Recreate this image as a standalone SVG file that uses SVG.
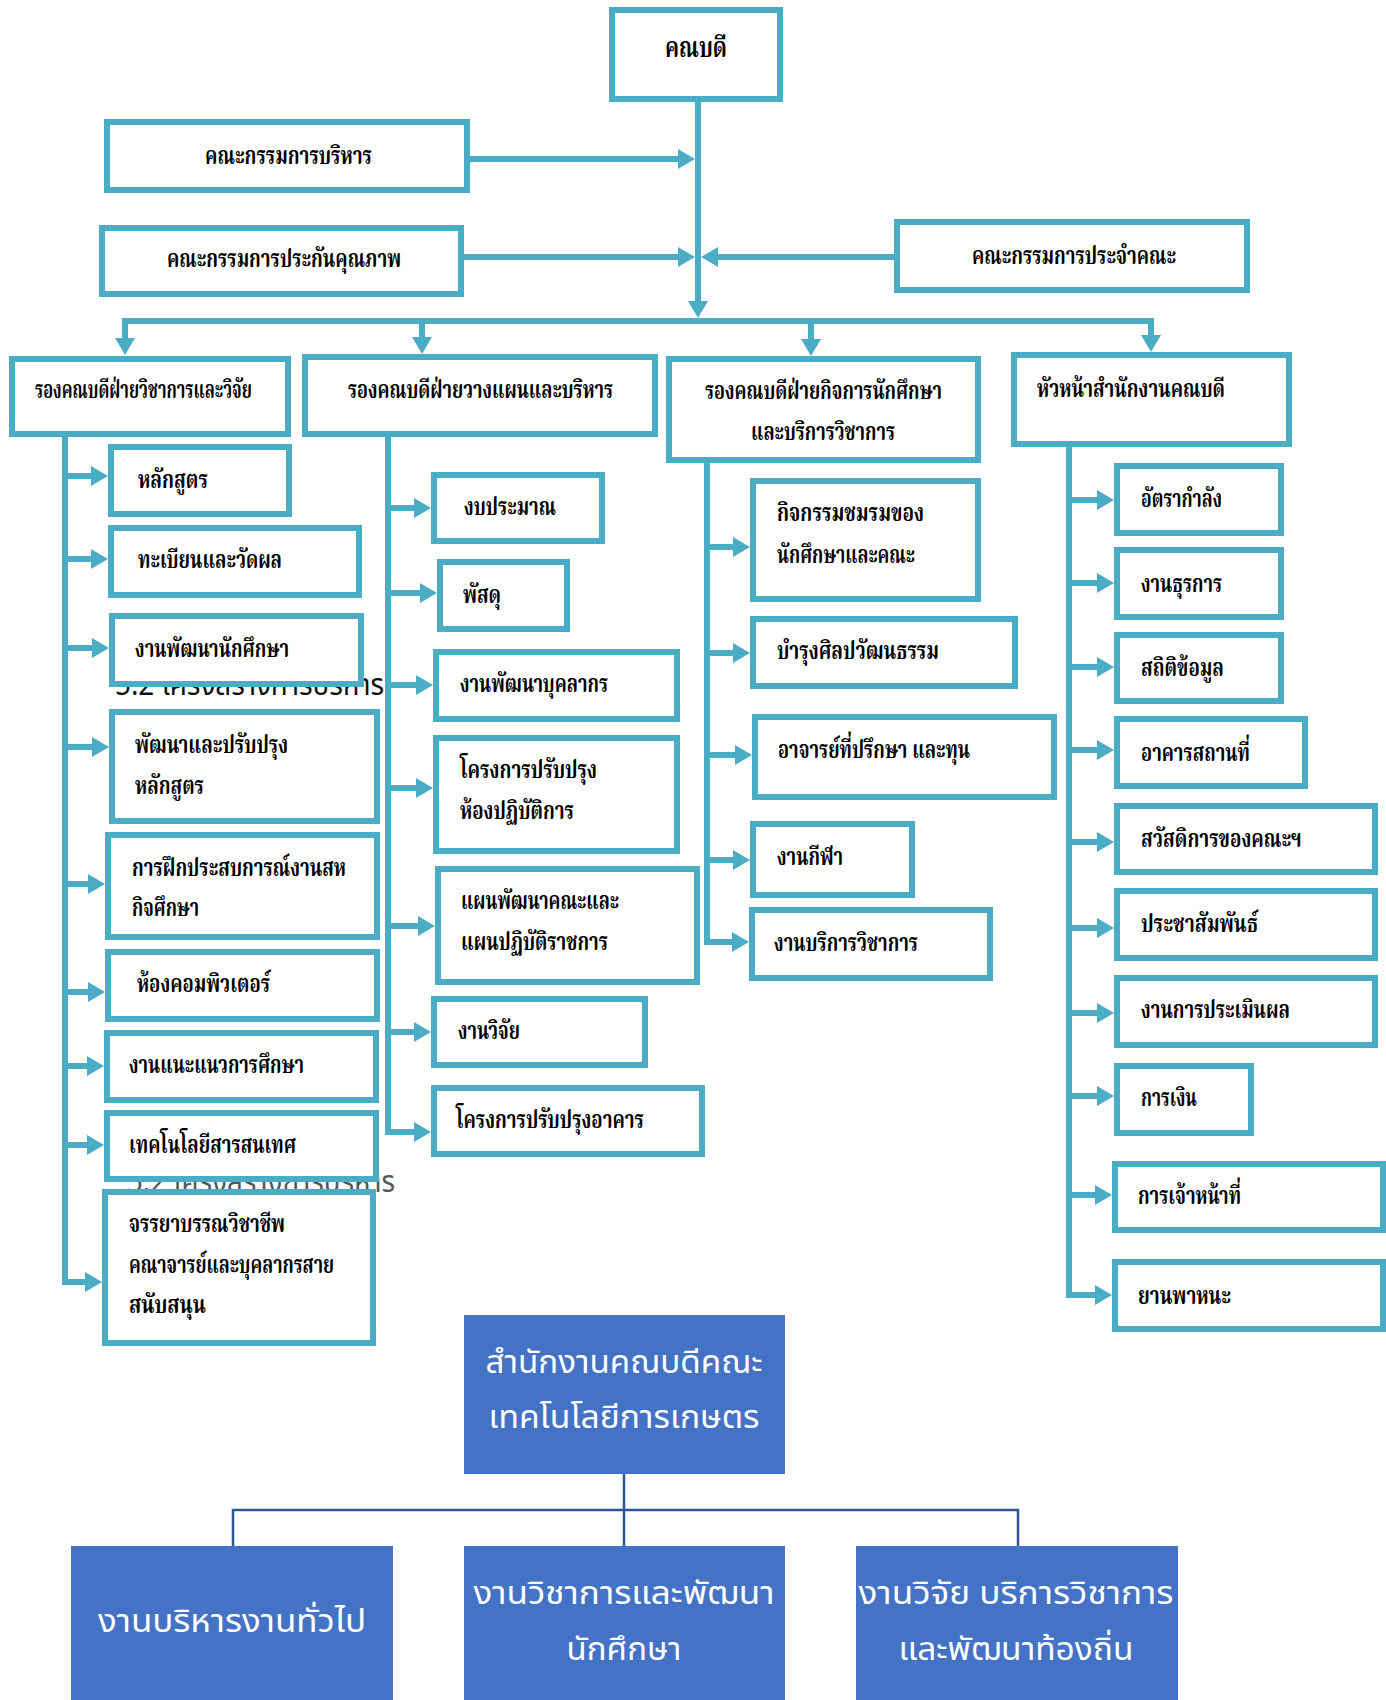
<svg xmlns="http://www.w3.org/2000/svg" width="1386" height="1700" viewBox="0 0 1386 1700">
<style>
.box{fill:#fff;stroke:#4BACC6;stroke-width:6}
.con{fill:none;stroke:#4BACC6;stroke-width:6}
.arr{marker-end:url(#ah)}
.t{font-family:"Noto Serif Thai","Norasi","Kinnari","Noto Sans Thai Looped","Noto Sans Thai","Noto Sans","DejaVu Sans",sans-serif;font-size:25px;font-weight:bold;fill:#000}
.ghost{font-family:"Noto Sans Thai","Noto Sans","DejaVu Sans",sans-serif;font-size:30px;fill:#111}
.sa{fill:#4472C4}
.sal{fill:none;stroke:#2F5597;stroke-width:2.5}
.sat{font-family:"Noto Sans Thai","Noto Sans","DejaVu Sans",sans-serif;font-size:32px;fill:#fff;text-anchor:middle}
</style>
<defs>
<marker id="ah" viewBox="0 0 17 20" refX="0" refY="10" markerWidth="17" markerHeight="20" markerUnits="userSpaceOnUse" orient="auto"><path d="M0,0 L17,10 L0,20 z" fill="#4BACC6"/></marker>
</defs>
<rect width="1386" height="1700" fill="#fff"/>

<g id="ghost-headings">
<text class="ghost" x="115" y="695" textLength="269" lengthAdjust="spacingAndGlyphs">5.2 โครงสร้างการบริหาร</text>
<text class="ghost" x="127" y="1192" textLength="268" lengthAdjust="spacingAndGlyphs" style="fill:#555;font-weight:normal">5.2 โครงสร้างการบริหาร</text>
</g>

<g id="connectors">
<path class="con arr" d="M698,102 V301"/>
<path class="con arr" d="M470,159 H678"/>
<path class="con arr" d="M464,257 H678"/>
<path class="con arr" d="M894,257 H718"/>
<path class="con" d="M122,321 H1154"/>
<path class="con arr" d="M125,321 V338"/>
<path class="con arr" d="M422,321 V337"/>
<path class="con arr" d="M811,321 V339"/>
<path class="con arr" d="M1151,321 V335"/>
<path class="con arr" d="M65,437 V1282 H85"/>
<path class="con arr" d="M65,476 H91"/>
<path class="con arr" d="M65,559 H91"/>
<path class="con arr" d="M65,648 H92"/>
<path class="con arr" d="M65,747 H92"/>
<path class="con arr" d="M65,884 H88"/>
<path class="con arr" d="M65,992 H88"/>
<path class="con arr" d="M65,1066 H87"/>
<path class="con arr" d="M65,1145 H87"/>
<path class="con arr" d="M388,437 V1132 H414"/>
<path class="con arr" d="M388,508 H414"/>
<path class="con arr" d="M388,593 H420"/>
<path class="con arr" d="M388,685 H416"/>
<path class="con arr" d="M388,788 H416"/>
<path class="con arr" d="M388,926 H418"/>
<path class="con arr" d="M388,1032 H414"/>
<path class="con arr" d="M707,463 V942 H732"/>
<path class="con arr" d="M707,547 H733"/>
<path class="con arr" d="M707,653 H733"/>
<path class="con arr" d="M707,755 H735"/>
<path class="con arr" d="M707,860 H733"/>
<path class="con arr" d="M1069,447 V1295 H1095"/>
<path class="con arr" d="M1069,500 H1097"/>
<path class="con arr" d="M1069,583 H1097"/>
<path class="con arr" d="M1069,667 H1097"/>
<path class="con arr" d="M1069,750 H1097"/>
<path class="con arr" d="M1069,842 H1097"/>
<path class="con arr" d="M1069,928 H1097"/>
<path class="con arr" d="M1069,1013 H1097"/>
<path class="con arr" d="M1069,1096 H1097"/>
<path class="con arr" d="M1069,1195 H1095"/>
<path class="sal" d="M624,1474 V1546"/>
<path class="sal" d="M233,1546 V1510 H1018 V1546"/>
</g>

<g id="dean"><rect class="box" x="612" y="10" width="168" height="89"/><text class="t" x="665" y="57" textLength="62" lengthAdjust="spacingAndGlyphs" style="font-size:28px">คณบดี</text></g>
<g id="exec-committee"><rect class="box" x="107" y="122" width="360" height="68"/><text class="t" x="205" y="164" textLength="167" lengthAdjust="spacingAndGlyphs">คณะกรรมการบริหาร</text></g>
<g id="qa-committee"><rect class="box" x="102" y="228" width="359" height="66"/><text class="t" x="167" y="267" textLength="234" lengthAdjust="spacingAndGlyphs">คณะกรรมการประกันคุณภาพ</text></g>
<g id="faculty-committee"><rect class="box" x="897" y="222" width="350" height="68"/><text class="t" x="972" y="264" textLength="204" lengthAdjust="spacingAndGlyphs">คณะกรรมการประจำคณะ</text></g>

<g id="vp-academic"><rect class="box" x="12" y="359" width="276" height="75"/><text class="t" x="35" y="398" textLength="217" lengthAdjust="spacingAndGlyphs">รองคณบดีฝ่ายวิชาการและวิจัย</text></g>
<g id="vp-planning"><rect class="box" x="305" y="357" width="350" height="77"/><text class="t" x="348" y="398" textLength="265" lengthAdjust="spacingAndGlyphs">รองคณบดีฝ่ายวางแผนและบริหาร</text></g>
<g id="vp-student"><rect class="box" x="669" y="359" width="309" height="101"/><text class="t" x="705" y="399" textLength="237" lengthAdjust="spacingAndGlyphs">รองคณบดีฝ่ายกิจการนักศึกษา</text><text class="t" x="751" y="440" textLength="144" lengthAdjust="spacingAndGlyphs">และบริการวิชาการ</text></g>
<g id="head-office"><rect class="box" x="1014" y="355" width="275" height="89"/><text class="t" x="1037" y="397" textLength="188" lengthAdjust="spacingAndGlyphs">หัวหน้าสำนักงานคณบดี</text></g>

<g id="c1-curriculum"><rect class="box" x="111" y="447" width="178" height="67"/><text class="t" x="138" y="488" textLength="70" lengthAdjust="spacingAndGlyphs">หลักสูตร</text></g>
<g id="c1-registration"><rect class="box" x="111" y="528" width="248" height="67"/><text class="t" x="138" y="568" textLength="144" lengthAdjust="spacingAndGlyphs">ทะเบียนและวัดผล</text></g>
<g id="c1-student-dev"><rect class="box" x="112" y="616" width="249" height="68"/><text class="t" x="135" y="657" textLength="154" lengthAdjust="spacingAndGlyphs">งานพัฒนานักศึกษา</text></g>
<g id="c1-curriculum-dev"><rect class="box" x="112" y="712" width="265" height="109"/><text class="t" x="135" y="753" textLength="153" lengthAdjust="spacingAndGlyphs">พัฒนาและปรับปรุง</text><text class="t" x="135" y="794" textLength="69" lengthAdjust="spacingAndGlyphs">หลักสูตร</text></g>
<g id="c1-coop"><rect class="box" x="108" y="835" width="269" height="102"/><text class="t" x="132" y="876" textLength="214" lengthAdjust="spacingAndGlyphs">การฝึกประสบการณ์งานสห</text><text class="t" x="132" y="916" textLength="67" lengthAdjust="spacingAndGlyphs">กิจศึกษา</text></g>
<g id="c1-computer"><rect class="box" x="108" y="952" width="269" height="67"/><text class="t" x="137" y="992" textLength="133" lengthAdjust="spacingAndGlyphs">ห้องคอมพิวเตอร์</text></g>
<g id="c1-guidance"><rect class="box" x="107" y="1033" width="269" height="67"/><text class="t" x="129" y="1073" textLength="175" lengthAdjust="spacingAndGlyphs">งานแนะแนวการศึกษา</text></g>
<g id="c1-it"><rect class="box" x="107" y="1113" width="269" height="66"/><text class="t" x="129" y="1153" textLength="167" lengthAdjust="spacingAndGlyphs">เทคโนโลยีสารสนเทศ</text></g>
<g id="c1-ethics"><rect class="box" x="105" y="1192" width="268" height="151"/><text class="t" x="129" y="1232" textLength="156" lengthAdjust="spacingAndGlyphs">จรรยาบรรณวิชาชีพ</text><text class="t" x="129" y="1273" textLength="205" lengthAdjust="spacingAndGlyphs">คณาจารย์และบุคลากรสาย</text><text class="t" x="129" y="1313" textLength="77" lengthAdjust="spacingAndGlyphs">สนับสนุน</text></g>

<g id="c2-budget"><rect class="box" x="434" y="475" width="168" height="66"/><text class="t" x="464" y="515" textLength="92" lengthAdjust="spacingAndGlyphs">งบประมาณ</text></g>
<g id="c2-supplies"><rect class="box" x="440" y="562" width="127" height="67"/><text class="t" x="463" y="603" textLength="38" lengthAdjust="spacingAndGlyphs">พัสดุ</text></g>
<g id="c2-staff-dev"><rect class="box" x="436" y="652" width="241" height="67"/><text class="t" x="460" y="692" textLength="148" lengthAdjust="spacingAndGlyphs">งานพัฒนาบุคลากร</text></g>
<g id="c2-lab"><rect class="box" x="436" y="738" width="241" height="113"/><text class="t" x="460" y="778" textLength="137" lengthAdjust="spacingAndGlyphs">โครงการปรับปรุง</text><text class="t" x="460" y="819" textLength="114" lengthAdjust="spacingAndGlyphs">ห้องปฏิบัติการ</text></g>
<g id="c2-plan"><rect class="box" x="438" y="869" width="259" height="113"/><text class="t" x="461" y="909" textLength="158" lengthAdjust="spacingAndGlyphs">แผนพัฒนาคณะและ</text><text class="t" x="461" y="950" textLength="147" lengthAdjust="spacingAndGlyphs">แผนปฏิบัติราชการ</text></g>
<g id="c2-research"><rect class="box" x="434" y="999" width="211" height="66"/><text class="t" x="458" y="1039" textLength="62" lengthAdjust="spacingAndGlyphs">งานวิจัย</text></g>
<g id="c2-building"><rect class="box" x="434" y="1088" width="268" height="66"/><text class="t" x="456" y="1128" textLength="188" lengthAdjust="spacingAndGlyphs">โครงการปรับปรุงอาคาร</text></g>

<g id="c3-clubs"><rect class="box" x="753" y="481" width="225" height="118"/><text class="t" x="777" y="521" textLength="147" lengthAdjust="spacingAndGlyphs">กิจกรรมชมรมของ</text><text class="t" x="777" y="563" textLength="138" lengthAdjust="spacingAndGlyphs">นักศึกษาและคณะ</text></g>
<g id="c3-culture"><rect class="box" x="753" y="619" width="262" height="67"/><text class="t" x="777" y="659" textLength="162" lengthAdjust="spacingAndGlyphs">บำรุงศิลปวัฒนธรรม</text></g>
<g id="c3-advisor"><rect class="box" x="755" y="717" width="299" height="80"/><text class="t" x="778" y="758" textLength="192" lengthAdjust="spacingAndGlyphs">อาจารย์ที่ปรึกษา และทุน</text></g>
<g id="c3-sports"><rect class="box" x="753" y="824" width="159" height="71"/><text class="t" x="777" y="865" textLength="66" lengthAdjust="spacingAndGlyphs">งานกีฬา</text></g>
<g id="c3-service"><rect class="box" x="752" y="910" width="238" height="68"/><text class="t" x="774" y="951" textLength="144" lengthAdjust="spacingAndGlyphs">งานบริการวิชาการ</text></g>

<g id="c4-manpower"><rect class="box" x="1117" y="466" width="164" height="67"/><text class="t" x="1141" y="507" textLength="81" lengthAdjust="spacingAndGlyphs">อัตรากำลัง</text></g>
<g id="c4-admin"><rect class="box" x="1117" y="550" width="164" height="67"/><text class="t" x="1141" y="592" textLength="81" lengthAdjust="spacingAndGlyphs">งานธุรการ</text></g>
<g id="c4-stats"><rect class="box" x="1117" y="635" width="164" height="66"/><text class="t" x="1141" y="676" textLength="83" lengthAdjust="spacingAndGlyphs">สถิติข้อมูล</text></g>
<g id="c4-facilities"><rect class="box" x="1117" y="719" width="188" height="67"/><text class="t" x="1141" y="761" textLength="109" lengthAdjust="spacingAndGlyphs">อาคารสถานที่</text></g>
<g id="c4-welfare"><rect class="box" x="1117" y="806" width="258" height="66"/><text class="t" x="1141" y="847" textLength="161" lengthAdjust="spacingAndGlyphs">สวัสดิการของคณะฯ</text></g>
<g id="c4-pr"><rect class="box" x="1117" y="891" width="258" height="67"/><text class="t" x="1141" y="932" textLength="117" lengthAdjust="spacingAndGlyphs">ประชาสัมพันธ์</text></g>
<g id="c4-evaluation"><rect class="box" x="1117" y="978" width="258" height="67"/><text class="t" x="1141" y="1018" textLength="149" lengthAdjust="spacingAndGlyphs">งานการประเมินผล</text></g>
<g id="c4-finance"><rect class="box" x="1117" y="1066" width="134" height="67"/><text class="t" x="1141" y="1106" textLength="56" lengthAdjust="spacingAndGlyphs">การเงิน</text></g>
<g id="c4-personnel"><rect class="box" x="1115" y="1164" width="268" height="66"/><text class="t" x="1138" y="1204" textLength="103" lengthAdjust="spacingAndGlyphs">การเจ้าหน้าที่</text></g>
<g id="c4-vehicles"><rect class="box" x="1115" y="1262" width="268" height="67"/><text class="t" x="1138" y="1304" textLength="93" lengthAdjust="spacingAndGlyphs">ยานพาหนะ</text></g>

<g id="sa-office"><rect class="sa" x="464" y="1315" width="321" height="159"/><text class="sat" x="624" y="1373" textLength="277" lengthAdjust="spacingAndGlyphs">สำนักงานคณบดีคณะ</text><text class="sat" x="624" y="1428" textLength="271" lengthAdjust="spacingAndGlyphs">เทคโนโลยีการเกษตร</text></g>
<g id="sa-general"><rect class="sa" x="71" y="1546" width="322" height="160"/><text class="sat" x="232" y="1632" textLength="268" lengthAdjust="spacingAndGlyphs">งานบริหารงานทั่วไป</text></g>
<g id="sa-academic"><rect class="sa" x="464" y="1546" width="321" height="160"/><text class="sat" x="624" y="1604" textLength="301" lengthAdjust="spacingAndGlyphs">งานวิชาการและพัฒนา</text><text class="sat" x="624" y="1660" textLength="115" lengthAdjust="spacingAndGlyphs">นักศึกษา</text></g>
<g id="sa-research"><rect class="sa" x="856" y="1546" width="322" height="160"/><text class="sat" x="1016" y="1604" textLength="315" lengthAdjust="spacingAndGlyphs">งานวิจัย บริการวิชาการ</text><text class="sat" x="1016" y="1660" textLength="235" lengthAdjust="spacingAndGlyphs">และพัฒนาท้องถิ่น</text></g>
</svg>
